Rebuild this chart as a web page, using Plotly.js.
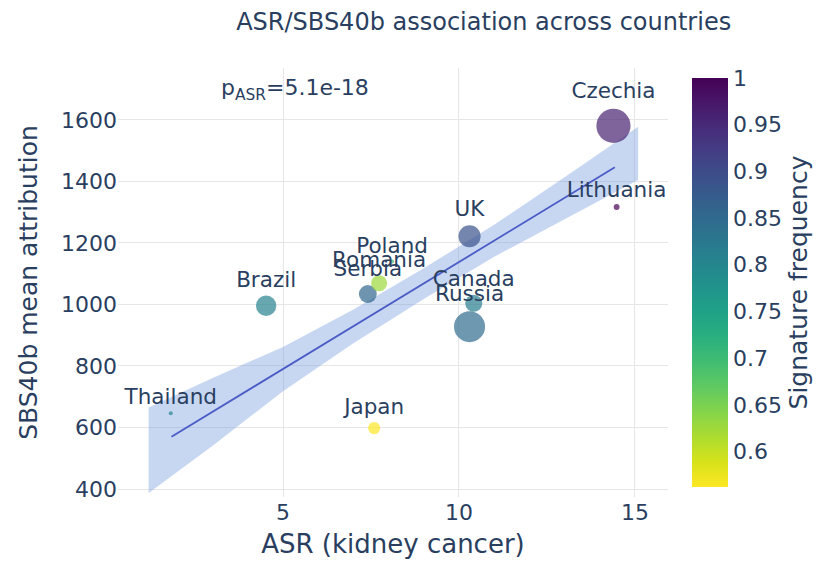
<!DOCTYPE html>
<html>
<head>
<meta charset="utf-8">
<script src="https://cdn.plot.ly/plotly-3.0.1.min.js"></script>
<style>html,body{margin:0;padding:0;background:#fff;}#chart{width:824px;height:573px;}</style>
</head>
<body>
<div id="chart"></div>
<script>
// Data
const countries = ["Thailand","Brazil","Japan","Serbia","Romania","Poland","Russia","UK","Canada","Lithuania","Czechia"];
const asr       = [1.81, 4.52, 7.59, 7.41, 7.73, 8.10, 10.30, 10.30, 10.42, 14.48, 14.39];
const sbs40b    = [646, 996, 598, 1034, 1069, 1140, 928, 1222, 1004, 1317, 1581];
const sigFreq   = [0.80, 0.81, 0.562, 0.855, 0.626, 0.70, 0.846, 0.89, 0.815, 1.0, 0.96];
const sampleSize= [6, 361, 130, 280, 225, 9, 841, 430, 256, 30, 1024];

// Trend line and confidence band
const fitX = [1.83, 14.43];
const fitY = [570, 1446];
const bandX     = [1.18, 3, 5, 7, 9, 11, 13, 15.09];
const bandUpper = [665, 761, 862, 984, 1118, 1259, 1414, 1578];
const bandLower = [387, 541, 718, 874, 1018, 1155, 1278, 1405];

const fontFamily = '"DejaVu Sans", Verdana, sans-serif';
const txtColor = '#2a3f5f';

const band = {
  x: bandX.concat(bandX.slice().reverse()),
  y: bandUpper.concat(bandLower.slice().reverse()),
  type: 'scatter', mode: 'lines', fill: 'toself',
  fillcolor: 'rgba(115,155,222,0.4)', line: {width: 0},
  hoverinfo: 'skip', showlegend: false
};
const fit = {
  x: fitX, y: fitY, type: 'scatter', mode: 'lines',
  line: {color: '#4a5cc5', width: 1.8}, hoverinfo: 'skip', showlegend: false
};
const pts = {
  x: asr, y: sbs40b, text: countries, type: 'scatter', mode: 'markers+text',
  textposition: 'top center',
  textfont: {family: fontFamily, size: 21.5, color: txtColor},
  marker: {
    size: sampleSize, sizemode: 'area', sizeref: 1.75, sizemin: 2,
    color: sigFreq, colorscale: 'Viridis', reversescale: true, opacity: 0.7,
    line: {width: 0},
    colorbar: {
      title: {text: 'Signature frequency', side: 'right', font: {family: fontFamily, size: 25, color: txtColor}},
      tickfont: {family: fontFamily, size: 22, color: txtColor},
      thickness: 36, dtick: 0.05, outlinewidth: 0, ticks: '',
      x: 1.0436, xanchor: 'left', xpad: 0
    }
  },
  showlegend: false
};

const layout = {
  width: 824, height: 573,
  margin: {l: 118, r: 156, t: 68, b: 76, autoexpand: false},
  paper_bgcolor: '#fff', plot_bgcolor: '#fff',
  font: {family: fontFamily, color: txtColor, size: 22},
  title: {text: 'ASR/SBS40b association across countries', x: 0.587, xanchor: 'center',
          y: 0.962, yanchor: 'middle',
          font: {family: fontFamily, size: 24, color: txtColor}},
  xaxis: {
    range: [0.31, 15.94], dtick: 5, tick0: 0,
    gridcolor: '#e6e6e6', zeroline: false, showline: false, ticks: '',
    tickfont: {size: 22},
    title: {text: 'ASR (kidney cancer)', font: {size: 26}, standoff: 10}
  },
  yaxis: {
    range: [374, 1769], dtick: 200, tick0: 0,
    gridcolor: '#e6e6e6', zeroline: false, showline: false, ticks: '',
    tickfont: {size: 22},
    title: {text: 'SBS40b mean attribution', font: {size: 25}, standoff: 16}
  },
  annotations: [{
    text: 'p<sub>ASR</sub>=5.1e-18', x: 0.322, y: 0.949, xref: 'paper', yref: 'paper',
    xanchor: 'center', yanchor: 'middle', showarrow: false,
    font: {family: fontFamily, size: 22, color: txtColor}
  }]
};

Plotly.newPlot('chart', [band, fit, pts], layout, {displayModeBar: false, staticPlot: true});
</script>
</body>
</html>
